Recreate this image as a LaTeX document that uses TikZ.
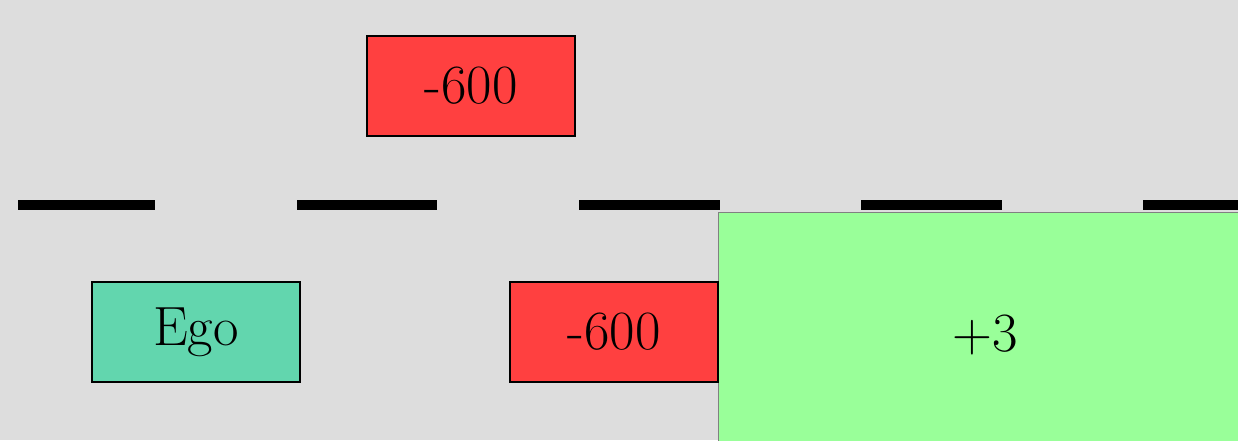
\documentclass[tikz,border=0pt]{standalone}
\usepackage{amsmath, amssymb}

\definecolor{roadgray}{RGB}{221,221,221}
\definecolor{carred}{RGB}{255,64,64}
\definecolor{egoteal}{RGB}{98,214,174}
\definecolor{rewardgreen}{RGB}{153,255,153}

\tikzset{
  car/.style={draw=black, line width=0.9pt, minimum width=4.16cm, minimum height=2cm,
    font=\fontsize{31.5}{36}\selectfont},
  enemy/.style={car, fill=carred},
  ego/.style={car, fill=egoteal},
  reward/.style={draw=gray, line width=0.5pt, fill=rewardgreen, minimum width=10.68cm,
    minimum height=4.92cm, font=\fontsize{31.5}{36}\selectfont},
  lanemark/.style={line width=0.2cm}
}

\begin{document}
\begin{tikzpicture}[x=0.02cm, y=-0.02cm]
  \useasboundingbox (0,0) rectangle (1238,440);
  \clip (0,0) rectangle (1238,440);
  \fill[roadgray] (0,0) rectangle (1238,440);
  % lane markings
  \foreach \a/\b in {18/155,297/437,579/720,861/1002,1143/1284}
    \draw[lanemark] (\a,205) -- (\b,205);
  \node[enemy] (front) at (471,86) {-600};
  \node[ego] (egocar) at (196,332) {Ego};
  \node[reward] (bonus) at (985,335) {+3};
  \node[enemy] (side) at (614,332) {-600};
\end{tikzpicture}
\end{document}
